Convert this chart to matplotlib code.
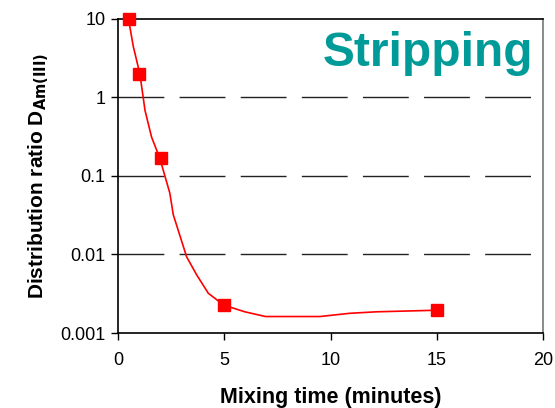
import numpy as np
import matplotlib
matplotlib.use("Agg")
import matplotlib.pyplot as plt

plt.rcParams["font.family"] = ["Liberation Sans", "DejaVu Sans"]

# measured points (squares)
t_meas = [0.5, 1.0, 2.0, 5.0, 15.0]
d_meas = [10.0, 1.97, 0.166, 0.00226, 0.00195]

# drawn trend curve
t_curve = [0.49, 0.72, 1.03, 1.27, 1.58, 1.97, 2.44, 2.6, 3.23, 3.7, 4.25,
           4.98, 5.97, 6.94, 9.5, 10.9, 12.16, 15.06]
d_curve = [10.0, 4.4, 1.97, 0.68, 0.31, 0.166, 0.060, 0.032, 0.0093, 0.0055,
           0.0032, 0.00226, 0.00186, 0.00162, 0.00162, 0.00178, 0.00186, 0.00195]

yticks = [0.001, 0.01, 0.1, 1, 10]
ytick_labels = ["0.001", "0.01", "0.1", "1", "10"]
xticks = [0, 5, 10, 15, 20]

fig = plt.figure(figsize=(5.55, 4.08), dpi=100)
ax = fig.add_axes([118 / 555, 1 - 333 / 408, 425 / 555, 314.5 / 408])

for g in [0.01, 0.1, 1]:
    ax.axhline(g, color="#222222", lw=1.0, dashes=(33, 11), zorder=1)

ax.plot(t_curve, d_curve, color="#ff0000", lw=1.2, zorder=2)
ax.plot(t_meas, d_meas, ls="none", marker="s", ms=8, color="#ff0000",
        mec="#ff0000", zorder=3, clip_on=False)

ax.set_yscale("log")
ax.set_ylim(0.001, 10)
ax.set_xlim(0, 20)
ax.set_yticks(yticks)
ax.set_yticklabels(ytick_labels)
ax.yaxis.set_minor_locator(matplotlib.ticker.NullLocator())
ax.set_xticks(xticks)
ax.tick_params(axis="both", direction="out", length=5, width=1,
               labelsize=13, pad=4)
ax.tick_params(axis="x", pad=9)

for s in ax.spines.values():
    s.set_linewidth(1.2)
ax.spines["right"].set_color("#777777")

ax.set_xlabel("Mixing time (minutes)", fontsize=15.5, fontweight="bold",
              labelpad=13)
ax.set_ylabel(r"Distribution ratio D$_{\mathbf{Am(III)}}$", fontsize=15,
              fontweight="bold", labelpad=7)

ax.text(0.976, 0.849, "Stripping", transform=ax.transAxes, ha="right",
        va="baseline", fontsize=34.5, fontweight="bold", color="#009b98")

fig.savefig("out.png", dpi=100)
